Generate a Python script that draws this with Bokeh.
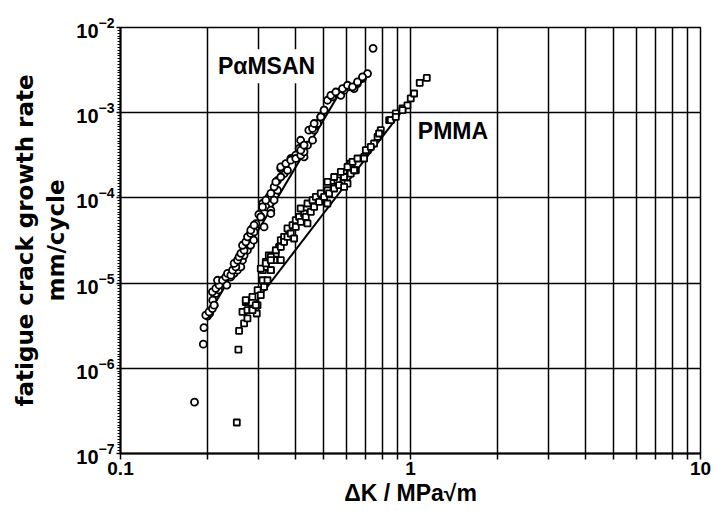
from bokeh.plotting import figure
from bokeh.models import Label, ColumnDataSource, FixedTicker, CustomJSTickFormatter
from bokeh.embed import file_html
from bokeh.resources import INLINE

# P-alpha-MSAN (circles): stress intensity range (MPa sqrt m), crack growth rate (mm/cycle)
pamsan_dk = [0.180, 0.193, 0.194, 0.1995, 0.203, 0.2105, 0.208, 0.213, 0.218, 0.222,
             0.2276, 0.2326, 0.240, 0.2464, 0.253, 0.257, 0.260, 0.2634, 0.2668, 0.274,
             0.275, 0.281, 0.288, 0.281, 0.285, 0.293, 0.300, 0.3047, 0.309, 0.317,
             0.330, 0.3254, 0.3386, 0.3478, 0.348, 0.3665, 0.3765, 0.357, 0.3866, 0.402,
             0.413, 0.418, 0.4296, 0.4414, 0.446, 0.4594, 0.4653, 0.4778, 0.4905, 0.5036,
             0.5173, 0.5383, 0.560, 0.575, 0.590, 0.614, 0.639, 0.656, 0.683, 0.711, 0.743,
             0.1968, 0.2020, 0.2075, 0.2102, 0.2075, 0.2131, 0.2188, 0.2160, 0.2248, 0.2307,
             0.2339, 0.2401, 0.2434, 0.2499, 0.2465, 0.2532, 0.2564, 0.2600, 0.2668, 0.2634,
             0.2704, 0.2741, 0.2813, 0.2888, 0.2813, 0.2888, 0.3046, 0.3088, 0.3170, 0.3299,
             0.3387, 0.3432, 0.3571, 0.3571, 0.3715, 0.3865, 0.4022, 0.4185, 0.4296, 0.3127,
             0.3299, 0.4185, 0.4296, 0.4594, 0.4652, 0.4907, 0.5037, 0.5313, 0.5528, 0.5828,
             0.6065, 0.6310, 0.6564, 0.6831]
pamsan_rate = [4.0e-7, 1.92e-6, 3.0e-6, 4.1e-6, 4.4e-6, 5.5e-6, 6.3e-6, 7.55e-6, 8.3e-6, 9.9e-6,
               1.08e-5, 9.45e-6, 1.18e-5, 1.30e-5, 1.42e-5, 1.75e-5, 1.55e-5, 1.86e-5, 2.12e-5, 2.43e-5,
               3.0e-5, 2.78e-5, 3.19e-5, 3.85e-5, 4.38e-5, 5.0e-5, 6.4e-5, 5.99e-5, 8.6e-5, 7.84e-5,
               7.17e-5, 1.03e-4, 9.4e-5, 1.23e-4, 1.61e-4, 1.93e-4, 2.11e-4, 2.21e-4, 2.9e-4, 3.17e-4,
               3.8e-4, 4.75e-4, 3.03e-4, 4.16e-4, 6.24e-4, 4.76e-4, 6.24e-4, 7.47e-4, 8.93e-4, 1.07e-3,
               1.40e-3, 1.53e-3, 1.68e-3, 1.6e-3, 1.84e-3, 2.01e-3, 1.92e-3, 2.20e-3, 2.52e-3, 2.88e-3, 5.7e-3,
               4.20e-6, 4.59e-6, 5.03e-6, 5.51e-6, 7.89e-6, 8.65e-6, 9.45e-6, 1.08e-5, 1.08e-5, 1.18e-5,
               1.30e-5, 1.24e-5, 1.42e-5, 1.55e-5, 1.70e-5, 1.86e-5, 2.03e-5, 2.23e-5, 2.43e-5, 2.78e-5,
               3.05e-5, 3.49e-5, 3.82e-5, 3.99e-5, 4.18e-5, 4.79e-5, 5.98e-5, 7.84e-5, 9.40e-5, 1.13e-4,
               1.35e-4, 1.54e-4, 1.76e-4, 2.31e-4, 2.53e-4, 2.77e-4, 2.90e-4, 3.17e-4, 3.47e-4, 4.57e-5,
               6.56e-5, 3.63e-4, 4.16e-4, 6.53e-4, 7.47e-4, 8.93e-4, 1.07e-3, 1.60e-3, 1.75e-3, 1.92e-3,
               2.10e-3, 2.01e-3, 2.30e-3, 2.63e-3]

# PMMA (squares)
pmma_dk = [0.2518, 0.255, 0.2564, 0.2668, 0.274, 0.2634, 0.274, 0.285, 0.295, 0.2704,
           0.2968, 0.285, 0.297, 0.309, 0.3099, 0.317, 0.3246, 0.330, 0.3386, 0.343,
           0.3523, 0.357, 0.3665, 0.3815, 0.3765, 0.3918, 0.402, 0.413, 0.4296, 0.418,
           0.4414, 0.4594, 0.4716, 0.4905, 0.5173, 0.517, 0.545, 0.560, 0.590, 0.6065,
           0.622, 0.648, 0.622, 0.692, 0.711, 0.749, 0.770, 0.790, 0.844, 0.890,
           0.938, 0.976, 1.002, 1.029, 1.076, 1.138,
           0.3046, 0.3170, 0.3299, 0.3432, 0.3571, 0.3665, 0.3765, 0.3865, 0.4022, 0.4185,
           0.4355, 0.4531, 0.4652, 0.4841, 0.5037, 0.5241, 0.5454, 0.5675, 0.4414, 0.3968,
           0.3571, 0.3299, 0.5175, 0.5454, 0.5751, 0.6065, 0.6310, 0.6564, 0.7013, 0.6918,
           0.7296, 0.7791, 0.8552, 0.8899, 0.9384, 0.6390, 0.5902,
           0.2704, 0.2851, 0.2927, 0.3046, 0.3127, 0.3213, 0.3170, 0.3299]
pmma_rate = [2.31e-7, 1.66e-6, 2.75e-6, 3.36e-6, 3.85e-6, 4.6e-6, 4.81e-6, 5.03e-6, 4.4e-6, 6.0e-6,
             5.5e-6, 6.9e-6, 8.26e-6, 1.08e-5, 1.42e-5, 1.55e-5, 2.12e-5, 1.42e-5, 1.86e-5, 2.22e-5,
             2.66e-5, 3.19e-5, 3.49e-5, 3.82e-5, 4.38e-5, 4.79e-5, 5.48e-5, 5.99e-5, 6.56e-5, 7.51e-5,
             8.6e-5, 9.4e-5, 1.03e-4, 1.13e-4, 1.23e-4, 8.6e-5, 1.35e-4, 1.61e-4, 1.76e-4, 1.47e-4,
             1.93e-4, 2.11e-4, 2.53e-4, 3.03e-4, 3.63e-4, 4.35e-4, 5.2e-4, 6.24e-4, 8.16e-4, 9.8e-4,
             1.12e-3, 1.22e-3, 1.47e-3, 1.68e-3, 2.24e-3, 2.56e-3,
             1.48e-5, 1.77e-5, 2.03e-5, 2.43e-5, 2.66e-5, 3.05e-5, 3.49e-5, 3.82e-5, 4.57e-5, 5.23e-5,
             5.98e-5, 6.85e-5, 7.84e-5, 8.97e-5, 1.03e-4, 1.13e-4, 1.29e-4, 1.41e-4, 5.01e-5, 3.34e-5,
             1.86e-5, 1.42e-5, 1.54e-4, 1.76e-4, 2.02e-4, 2.31e-4, 2.65e-4, 2.90e-4, 3.63e-4, 2.90e-4,
             3.97e-4, 5.70e-4, 8.16e-4, 8.93e-4, 1.07e-3, 2.11e-4, 1.35e-4,
             6.30e-6, 4.81e-6, 5.51e-6, 7.21e-6, 9.03e-6, 1.08e-5, 1.70e-5, 1.86e-5]

# fitted lines (end points)
pamsan_fit_dk = [0.1995, 0.598]
pamsan_fit_rate = [4.1e-6, 2.27e-3]
pmma_fit_dk = [0.2668, 1.018]
pmma_fit_rate = [4.0e-6, 1.52e-3]

# axis ticks
x_major = [0.1, 1, 10]
x_minor = [0.2, 0.3, 0.4, 0.5, 0.6, 0.7, 0.8, 0.9, 2, 3, 4, 5, 6, 7, 8, 9]
y_major = [1e-7, 1e-6, 1e-5, 1e-4, 1e-3, 1e-2]
y_minor = [10 ** (k + j / 30) for k in range(-7, -2) for j in range(1, 30)]

p = figure(width=715, height=511, x_axis_type="log", y_axis_type="log",
           x_range=(0.1, 10), y_range=(1e-7, 1e-2),
           output_backend="svg", toolbar_location=None,
           min_border_left=120, min_border_right=15, min_border_top=27, min_border_bottom=58)

p.outline_line_color = "black"
p.outline_line_width = 1.5
p.background_fill_color = "white"
p.border_fill_color = "white"

p.xaxis.ticker = FixedTicker(ticks=x_major, minor_ticks=x_minor)
p.yaxis.ticker = FixedTicker(ticks=y_major, minor_ticks=y_minor)
p.xaxis.formatter = CustomJSTickFormatter(code="return String(tick);")

# grids
p.xgrid.grid_line_color = "black"
p.xgrid.grid_line_width = 1.5
p.xgrid.grid_line_alpha = 1.0
p.xgrid.minor_grid_line_color = "black"
p.xgrid.minor_grid_line_width = 1.5
p.ygrid.grid_line_color = "black"
p.ygrid.grid_line_width = 1.5
p.ygrid.grid_line_alpha = 1.0
p.ygrid.minor_grid_line_color = None

# axes
for ax in (p.xaxis[0], p.yaxis[0]):
    ax.axis_line_color = "black"
    ax.axis_line_width = 2
    ax.major_tick_line_color = "black"
    ax.minor_tick_line_color = "black"
    ax.major_tick_line_width = 1.5
    ax.minor_tick_line_width = 1
    ax.major_tick_in = 0
    ax.minor_tick_in = 0
    ax.major_label_text_font = "Liberation Sans"
    ax.major_label_text_font_style = "bold"
    ax.major_label_text_font_size = "19px"
    ax.major_label_text_color = "black"
    ax.axis_label_text_color = "black"
    ax.axis_label_text_font_style = "bold"

p.xaxis.major_tick_out = 6
p.xaxis.minor_tick_out = 6
p.xaxis.minor_tick_line_width = 1.5
p.xaxis.major_label_standoff = 2
p.xaxis.axis_label = "ΔK / MPa√m"
p.xaxis.axis_label_text_font = "Liberation Sans"
p.xaxis.axis_label_text_font_size = "23px"
p.xaxis.axis_label_standoff = 2

p.yaxis.major_tick_out = 4
p.yaxis.minor_tick_out = 3
p.yaxis.major_label_standoff = 2
p.yaxis.major_label_text_font_size = "20px"
p.yaxis.axis_label = "fatigue crack growth rate\nmm/cycle"
p.yaxis.axis_label_text_font = "DejaVu Sans"
p.yaxis.axis_label_text_font_size = "23px"
p.yaxis.axis_label_standoff = 4

# fitted lines
p.line(pamsan_fit_dk, pamsan_fit_rate, line_color="black", line_width=2)
p.line(pmma_fit_dk, pmma_fit_rate, line_color="black", line_width=2)

# data
src_a = ColumnDataSource(dict(x=pamsan_dk, y=pamsan_rate))
src_b = ColumnDataSource(dict(x=pmma_dk, y=pmma_rate))
p.scatter("x", "y", source=src_a, marker="circle", size=7, fill_color="white",
          line_color="black", line_width=1.8)
p.scatter("x", "y", source=src_b, marker="square", size=6, fill_color="white",
          line_color="black", line_width=1.8)

p.add_layout(Label(x=0.21, y=3.5e-3, text="PαMSAN", text_baseline="middle",
                   text_font="Liberation Sans", text_font_style="bold", text_font_size="23px",
                   text_color="black", background_fill_color="white", padding=4))
p.add_layout(Label(x=1.06, y=6.07e-4, text="PMMA", text_baseline="middle",
                   text_font="Liberation Sans", text_font_style="bold", text_font_size="23px",
                   text_color="black"))

open("out.html", "w").write(file_html(p, INLINE))
